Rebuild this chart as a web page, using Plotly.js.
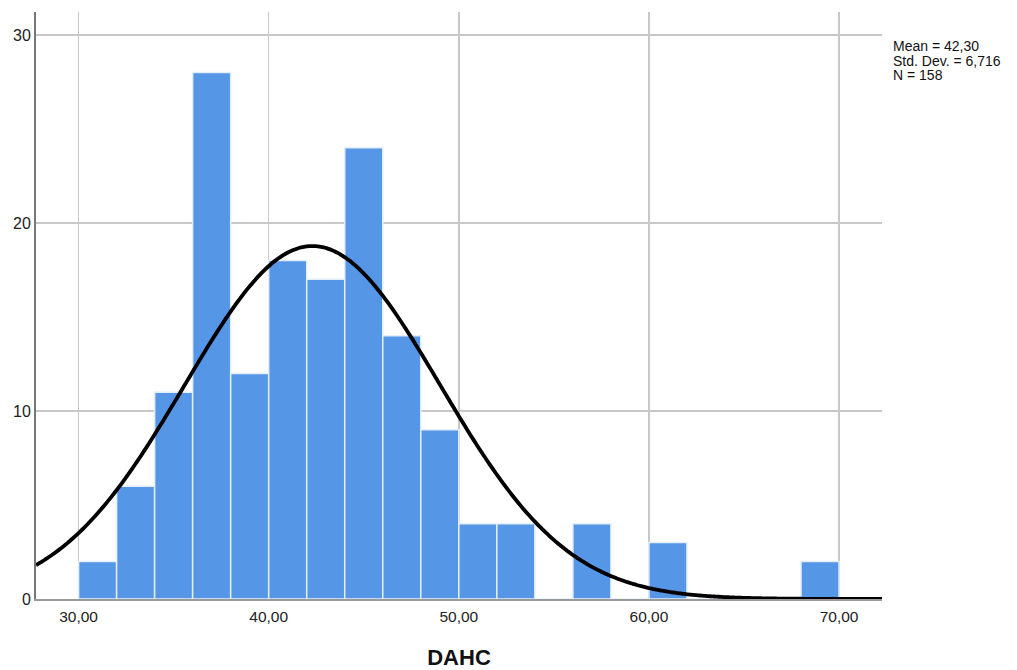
<!DOCTYPE html>
<html>
<head>
<meta charset="utf-8">
<script src="https://cdn.plot.ly/plotly-3.0.1.min.js"></script>
<style>html,body{margin:0;padding:0;background:#fff;}#chart{width:1017px;height:670px;}</style>
</head>
<body>
<div id="chart"></div>
<script>
// Histogram bins (left edges) and counts
const binStarts = [30,32,34,36,38,40,42,44,46,48,50,52,54,56,58,60,62,64,66,68];
const counts    = [2, 6, 11,28,12,18,17,24,14, 9, 4, 4, 0, 4, 0, 3, 0, 0, 0, 2];
const binWidth = 2;
// Summary statistics shown in the chart
const meanVal = 42.30;
const sdVal = 6.716;
const nVal = 158;
const statLines = ["Mean = 42,30", "Std. Dev. = 6,716", "N = 158"];
const xTickVals = [30,40,50,60,70];
const xTickText = ["30,00","40,00","50,00","60,00","70,00"];
const yTickVals = [0,10,20,30];
const xRange = [27.76, 72.26];
const yRange = [0, 31.22];

const centers = binStarts.map(b => b + binWidth/2);

// Fitted normal curve (from displayed mean, SD and N)
const curveX = [], curveY = [];
const steps = 300;
for (let i = 0; i <= steps; i++) {
  const x = xRange[0] + (xRange[1]-xRange[0]) * i / steps;
  const z = (x - meanVal) / sdVal;
  curveX.push(x);
  curveY.push(nVal * binWidth * Math.exp(-0.5*z*z) / (sdVal * Math.sqrt(2*Math.PI)));
}

const traces = [
  {
    type: 'bar', x: centers, y: counts, width: binWidth,
    marker: {color: '#5596e6', line: {color: '#e4eefb', width: 1.5}},
    hoverinfo: 'x+y'
  },
  {
    type: 'scatter', mode: 'lines', x: curveX, y: curveY,
    line: {color: '#000000', width: 3.8, shape: 'spline'},
    hoverinfo: 'skip'
  }
];

const plotH = 670 - 12 - 71;
const statAnn = statLines.map((t, i) => ({
  xref: 'paper', yref: 'paper', x: 1 + 10/846, y: 1 - (34 + i*14.5)/plotH,
  xanchor: 'left', yanchor: 'middle', align: 'left', showarrow: false,
  text: t, borderpad: 0,
  font: {size: 14, color: '#111111', family: 'Liberation Sans, Arial, sans-serif'}
}));

const layout = {
  width: 1017, height: 670,
  margin: {l: 36, r: 135, t: 12, b: 71, pad: 0},
  paper_bgcolor: '#ffffff', plot_bgcolor: '#ffffff',
  showlegend: false,
  bargap: 0,
  font: {family: 'Liberation Sans, Arial, sans-serif', size: 15, color: '#222222'},
  xaxis: {
    range: xRange, tickvals: xTickVals, ticktext: xTickText,
    showgrid: true, gridcolor: '#c8c8c8', gridwidth: 1.5,
    zeroline: false, showline: true, linecolor: '#9a9a9a', linewidth: 2,
    ticks: '', tickfont: {size: 15.5, color: '#222222'}, ticklabelstandoff: 2,
    title: {text: 'DAHC', font: {size: 22, color: '#111111', family: 'Liberation Sans, Arial, sans-serif', weight: 'bold'}, standoff: 26}
  },
  yaxis: {
    range: yRange, tickvals: yTickVals,
    showgrid: true, gridcolor: '#c8c8c8', gridwidth: 1.5,
    zeroline: false, showline: true, linecolor: '#777777', linewidth: 2,
    ticks: '', tickfont: {size: 16, color: '#222222'}, ticklabelstandoff: 0
  },
  annotations: statAnn
};

Plotly.newPlot('chart', traces, layout, {displayModeBar: false, staticPlot: true});
</script>
</body>
</html>
